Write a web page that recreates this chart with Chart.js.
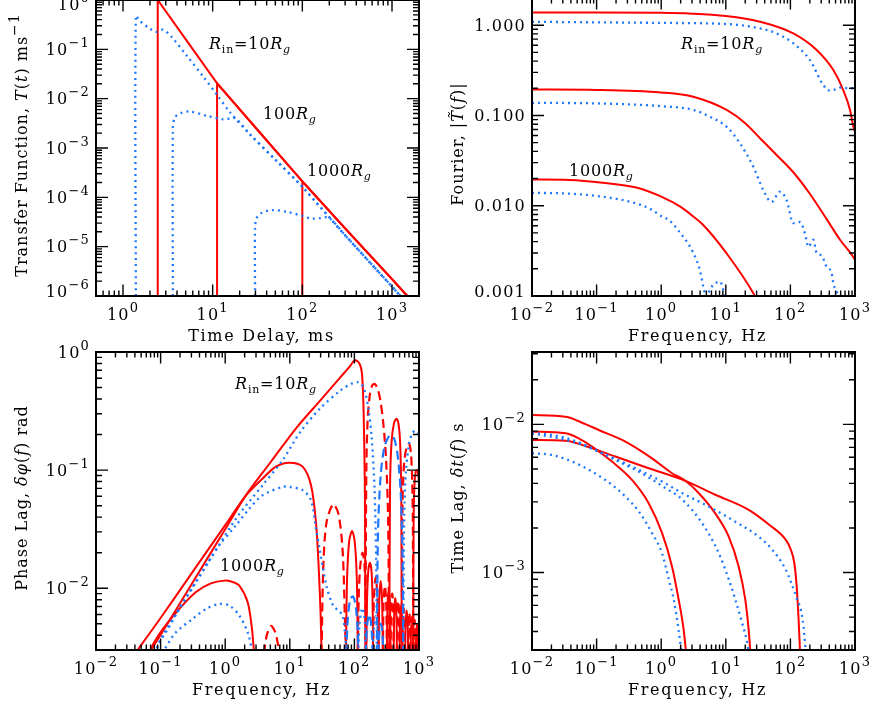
<!DOCTYPE html>
<html>
<head>
<meta charset="utf-8">
<script src="https://cdn.jsdelivr.net/npm/chart.js@4.4.1/dist/chart.umd.min.js"></script>
<style>
  html, body { margin: 0; padding: 0; background: #fff; }
  #wrap { position: relative; width: 872px; height: 708px; overflow: hidden; background: #fff; }
  canvas { position: absolute; }
</style>
</head>
<body>
<div id="wrap">
  <canvas id="transfer" width="436" height="374" style="left:0;top:-20px"></canvas>
  <canvas id="fourier" width="436" height="374" style="left:436px;top:-20px"></canvas>
  <canvas id="phase" width="436" height="374" style="left:0;top:334px"></canvas>
  <canvas id="timelag" width="436" height="374" style="left:436px;top:334px"></canvas>
</div>
<script>
// tick labels: [value, base, exponent]
const delayTicks = [[1, '10', '0'], [10, '10', '1'], [100, '10', '2'], [1000, '10', '3']];
const transferTicks = [[1, '10', '0'], [0.1, '10', '−1'], [0.01, '10', '−2'], [1e-3, '10', '−3'],
  [1e-4, '10', '−4'], [1e-5, '10', '−5'], [1e-6, '10', '−6']];
const freqTicks = [[0.01, '10', '−2'], [0.1, '10', '−1'], [1, '10', '0'], [10, '10', '1'], [100, '10', '2'], [1000, '10', '3']];
const fourierTicks = [[1, '1.000'], [0.1, '0.100'], [0.01, '0.010'], [0.001, '0.001']];
const phaseTicks = [[1, '10', '0'], [0.1, '10', '−1'], [0.01, '10', '−2']];
const lagTicks = [[0.01, '10', '−2'], [0.001, '10', '−3']];

// transfer function T(t), t in ms
const delayRed10 = [[2.44, 1e-6], [2.44, 1.0], [5.2, 0.145], [11.2, 0.0205], [30, 2.6e-3], [100, 2.1e-4], [300, 2.35e-5], [1000, 2.2e-6], [1480, 1e-6]];
const delayRed100 = [[11.2, 1e-6], [11.2, 0.0205], [30, 2.6e-3], [100, 2.1e-4], [300, 2.35e-5], [1000, 2.2e-6], [1480, 1e-6]];
const delayRed1000 = [[100, 1e-6], [100, 2.1e-4], [300, 2.35e-5], [1000, 2.2e-6], [1480, 1e-6]];
const delayBlue10 = [[1.39, 1e-6], [1.39, 0.475], [1.54, 0.377], [1.99, 0.264], [2.36, 0.226], [2.8, 0.25], [3.47, 0.18], [5.1, 0.076],
  [7.85, 0.028], [11.2, 0.0119], [15.6, 5.3e-3], [26, 1.9e-3], [50, 5.8e-4], [100, 1.63e-4], [300, 1.7e-5], [1000, 1.55e-6], [1245, 1e-6]];
const delayBlue100 = [[3.6, 1e-6], [3.6, 2.5e-3], [3.8, 4.2e-3], [4.4, 5.1e-3], [5.6, 5.5e-3], [8.6, 4.5e-3], [13.1, 3.8e-3], [16, 4.0e-3],
  [18, 4.0e-3], [26, 1.9e-3], [50, 5.8e-4], [100, 1.63e-4], [300, 1.7e-5], [1000, 1.55e-6], [1245, 1e-6]];
const delayBlue1000 = [[29.7, 1e-6], [29.7, 2.5e-5], [31, 3.8e-5], [35, 4.8e-5], [45.7, 5.5e-5], [70, 5.0e-5], [100, 4.2e-5], [125, 3.7e-5],
  [160, 3.8e-5], [197, 3.9e-5], [300, 1.7e-5], [1000, 1.55e-6], [1245, 1e-6]];

// Fourier amplitude |T(f)|, f in Hz
const fourRed10 = [[0.01, 1.38], [0.1, 1.38], [1, 1.37], [3, 1.34], [10, 1.26], [34, 1.09], [111, 0.81], [255, 0.53], [462, 0.318],
  [660, 0.19], [838, 0.115], [943, 0.075], [1000, 0.066]];
const fourBlue10 = [[0.01, 1.09], [1, 1.06], [10, 1.03], [34, 0.92], [61, 0.81], [111, 0.63], [201, 0.41], [323, 0.217], [410, 0.188],
  [500, 0.195], [586, 0.204], [800, 0.2], [1000, 0.2]];
const fourRed100 = [[0.01, 0.194], [0.1, 0.192], [1, 0.18], [3.14, 0.161], [10.3, 0.115], [20, 0.082], [33.8, 0.056], [60, 0.037],
  [111, 0.0235], [201, 0.0135], [364, 0.0071], [586, 0.0042], [943, 0.0027], [1000, 0.0025]];
const fourBlue100 = [[0.01, 0.138], [0.1, 0.136], [0.96, 0.127], [3.14, 0.115], [5.7, 0.0966], [10.3, 0.0748], [16.6, 0.049], [26.7, 0.027],
  [38, 0.0149], [51, 0.011], [69, 0.0143], [87.5, 0.0115], [111, 0.0064], [141, 0.0066], [168, 0.0049], [190, 0.0035], [226, 0.0042],
  [255, 0.003], [305, 0.0028], [364, 0.0021], [435, 0.0018], [462, 0.00138], [552, 0.001], [600, 0.0008]];
const fourRed1000 = [[0.01, 0.0195], [0.038, 0.0193], [0.124, 0.018], [0.41, 0.0159], [1, 0.0126], [2, 0.0097], [3.14, 0.0076],
  [4.4, 0.0062], [10.3, 0.00296], [26.7, 0.00107], [30, 0.0009]];
const fourBlue1000 = [[0.01, 0.0139], [0.038, 0.0136], [0.124, 0.0126], [0.41, 0.0106], [0.74, 0.0089], [0.96, 0.0078], [1.33, 0.0069],
  [1.74, 0.0056], [3.14, 0.003], [4.0, 0.0019], [4.5, 0.00126], [5.0, 0.00098], [5.6, 0.00115], [6.4, 0.00133], [8.1, 0.00144],
  [9.7, 0.001], [10.5, 0.0008]];

// phase lag |dphi(f)|, solid = positive, dashed = negative
const phaseRed10Solid = [[0.065, 0.0028], [0.071, 0.003], [0.1, 0.00402], [0.3, 0.01075], [1, 0.0316], [2.1, 0.0614], [5, 0.116],
  [12.5, 0.226], [30, 0.392], [60, 0.607], [85, 0.755], [98, 0.84], [110, 0.84], [122, 0.78], [130, 0.68], [135, 0.5], [139, 0.3],
  [143, 0.13], [146, 0.05], [148, 0.0028], null,
  [347, 0.0028], [356, 0.07], [375, 0.17], [410, 0.25], [452, 0.272], [490, 0.23], [515, 0.15], [532, 0.06], [540, 0.0028], null,
  [813, 0.0028], [825, 0.035], [850, 0.075], [890, 0.098], [935, 0.1], [975, 0.09], [1000, 0.08]];
const phaseRed10Dash = [[148, 0.0028], [153, 0.1], [160, 0.26], [172, 0.42], [188, 0.52], [205, 0.537], [225, 0.5], [250, 0.4],
  [280, 0.25], [310, 0.12], [332, 0.04], [347, 0.0028], null,
  [540, 0.0028], [555, 0.05], [585, 0.11], [640, 0.155], [700, 0.167], [750, 0.14], [785, 0.08], [805, 0.03], [813, 0.0028]];
const phaseRed100Solid = [[0.04, 0.0028], [0.044, 0.003], [0.1, 0.0056], [0.3, 0.0133], [1, 0.0342], [2.1, 0.0612], [3.8, 0.085],
  [6.1, 0.107], [9.8, 0.1155], [15.8, 0.107], [21.3, 0.0746], [25.4, 0.0364], [28, 0.015], [30, 0.006], [31, 0.0028], null,
  [74, 0.0028], [77, 0.012], [83, 0.025], [92, 0.0305], [101, 0.025], [109, 0.012], [113, 0.0028], null,
  [153, 0.0028], [157, 0.008], [164, 0.014], [174, 0.0164], [184, 0.014], [191, 0.008], [195, 0.0028], null,
  [237, 0.0028], [243, 0.008], [255, 0.0115], [268, 0.008], [276, 0.0028], null,
  [318, 0.0028], [325, 0.007], [340, 0.0095], [356, 0.007], [363, 0.0028], null,
  [405, 0.0028], [414, 0.0062], [430, 0.0082], [447, 0.006], [455, 0.0028], null,
  [500, 0.0028], [510, 0.0055], [528, 0.0072], [548, 0.0055], [558, 0.0028], null,
  [610, 0.0028], [622, 0.005], [645, 0.0065], [668, 0.005], [680, 0.0028], null,
  [740, 0.0028], [755, 0.0045], [780, 0.0058], [805, 0.0045], [820, 0.0028], null,
  [890, 0.0028], [905, 0.004], [930, 0.005], [955, 0.004], [970, 0.0028]];
const phaseRed100Dash = [[31, 0.0028], [33, 0.015], [37, 0.036], [47, 0.0514], [57, 0.042], [66, 0.02], [71, 0.006], [74, 0.0028], null,
  [113, 0.0028], [117, 0.009], [124, 0.016], [134, 0.02], [143, 0.016], [149, 0.008], [153, 0.0028], null,
  [195, 0.0028], [200, 0.008], [214, 0.0125], [228, 0.008], [237, 0.0028], null,
  [276, 0.0028], [283, 0.0075], [297, 0.0105], [311, 0.0075], [318, 0.0028], null,
  [363, 0.0028], [371, 0.0068], [386, 0.009], [400, 0.0066], [405, 0.0028], null,
  [455, 0.0028], [464, 0.006], [478, 0.0078], [492, 0.006], [500, 0.0028], null,
  [558, 0.0028], [569, 0.0052], [585, 0.0068], [600, 0.0052], [610, 0.0028], null,
  [680, 0.0028], [693, 0.0048], [710, 0.0062], [728, 0.0048], [740, 0.0028], null,
  [820, 0.0028], [835, 0.0043], [855, 0.0054], [875, 0.0043], [890, 0.0028]];
const phaseRed1000Solid = [[0.066, 0.0028], [0.08, 0.0035], [0.108, 0.0045], [0.195, 0.0067], [0.353, 0.0093], [0.6, 0.011],
  [0.97, 0.0116], [1.3, 0.0113], [1.66, 0.0105], [2.23, 0.0076], [2.6, 0.0045], [2.8, 0.0028]];
const phaseRed1000Dash = [[4.0, 0.0028], [4.4, 0.004], [5.1, 0.0048], [5.9, 0.0043], [6.6, 0.0033], [7.0, 0.0028]];
const phaseBlue10Dot = [[0.082, 0.0028], [0.095, 0.00348], [0.121, 0.00424], [0.195, 0.00668], [0.353, 0.01125], [0.64, 0.019],
  [1.47, 0.0389], [3.8, 0.0746], [7.76, 0.1216], [14.4, 0.209], [29, 0.33], [60, 0.47], [91, 0.54], [110, 0.556], [130, 0.53],
  [146, 0.46], [165, 0.33], [185, 0.19], [205, 0.07], [218, 0.015], [223, 0.0028], null,
  [571, 0.0028], [590, 0.04], [630, 0.1], [700, 0.165], [770, 0.2], [860, 0.215], [950, 0.21], [1000, 0.2]];
const phaseBlue10Dash = [[223, 0.0028], [232, 0.03], [255, 0.09], [290, 0.155], [335, 0.19], [377, 0.197], [420, 0.18], [470, 0.13],
  [520, 0.065], [555, 0.02], [571, 0.0028]];
const phaseBlue100Dot = [[0.078, 0.0028], [0.085, 0.003], [0.108, 0.00397], [0.154, 0.0055], [0.279, 0.00925], [0.505, 0.0156],
  [0.81, 0.0231], [1.47, 0.0341], [2.37, 0.0473], [3.8, 0.0613], [7.76, 0.0722], [10, 0.072], [15.8, 0.0676], [21.3, 0.0556],
  [25.4, 0.032], [29, 0.0213], [37, 0.0104], [47, 0.0071], [58, 0.0064], [66, 0.0058], [72, 0.004], [75, 0.0028], null,
  [115, 0.0028], [120, 0.005], [132, 0.0068], [144, 0.0055], [150, 0.0028], null,
  [192, 0.0028], [200, 0.0045], [214, 0.0058], [228, 0.0045], [234, 0.0028]];
const phaseBlue100Dash = [[75, 0.0028], [79, 0.0055], [87, 0.0082], [96, 0.0085], [105, 0.007], [112, 0.0045], [115, 0.0028], null,
  [150, 0.0028], [157, 0.0048], [170, 0.006], [183, 0.0048], [192, 0.0028], null,
  [234, 0.0028], [244, 0.0042], [258, 0.005], [272, 0.004], [280, 0.0028]];
const phaseBlue1000Dot = [[0.11, 0.0028], [0.114, 0.003], [0.173, 0.00424], [0.313, 0.0055], [0.505, 0.00668], [0.81, 0.00736],
  [1.16, 0.00713], [1.66, 0.00586], [2.23, 0.00424], [2.5, 0.0033], [2.66, 0.0028]];

// time lag dt(f), s
const lagRed10 = [[0.01, 0.00785], [0.033, 0.00776], [0.067, 0.00715], [0.195, 0.00607], [0.64, 0.00506], [2.37, 0.00416], [6.9, 0.00335],
  [22.6, 0.00265], [47, 0.0021], [85, 0.00166], [102, 0.00142], [115, 0.00116], [125, 0.00081], [134, 0.00048], [141, 0.00029]];
const lagRed100 = [[0.01, 0.01155], [0.033, 0.01127], [0.067, 0.01005], [0.108, 0.00916], [0.279, 0.00765], [0.72, 0.0059],
  [1.47, 0.00468], [2.37, 0.00416], [3.8, 0.00344], [6.9, 0.0025], [11.1, 0.00175], [15.8, 0.0011], [20, 0.00066], [22.6, 0.00041], [24, 0.00029]];
const lagRed1000 = [[0.01, 0.00893], [0.033, 0.0087], [0.0527, 0.00805], [0.085, 0.00708], [0.173, 0.00561], [0.353, 0.00422],
  [0.64, 0.00294], [1.03, 0.00185], [1.47, 0.0011], [1.86, 0.00066], [2.23, 0.00041], [2.42, 0.00029]];
const lagBlue10 = [[0.01, 0.0087], [0.042, 0.00765], [0.108, 0.00655], [0.353, 0.00519], [1.16, 0.004], [2.1, 0.00344], [4.8, 0.00287],
  [12.5, 0.00227], [32, 0.00175], [52, 0.00143], [85, 0.00104], [122, 0.00069], [155, 0.00048], [174, 0.00029]];
const lagBlue100 = [[0.01, 0.0087], [0.02, 0.0085], [0.042, 0.00785], [0.085, 0.0069], [0.195, 0.00575], [0.448, 0.0048], [1.16, 0.00372],
  [1.86, 0.00326], [3.0, 0.00265], [4.8, 0.002], [7.8, 0.00135], [11.1, 0.0009], [14, 0.00066], [17.8, 0.00046], [21.3, 0.00034], [22.6, 0.00029]];
const lagBlue1000 = [[0.01, 0.00638], [0.02, 0.00622], [0.042, 0.00561], [0.085, 0.0048], [0.173, 0.00391], [0.279, 0.00326],
  [0.448, 0.00259], [0.72, 0.00185], [1.03, 0.00135], [1.31, 0.0009], [1.56, 0.00066], [1.86, 0.00041], [2.05, 0.00029]];

const RED = '#ff0000';
const BLUE = 'rgb(30,120,255)';
const FONT = '"DejaVu Serif", "Liberation Serif", serif';

function toPoints(arr) {
  let lastX = 1;
  return arr.map(p => {
    if (!p) return { x: lastX, y: null };
    lastX = p[0];
    return { x: p[0], y: p[1] };
  });
}

// smooth: number = bezier tension, 'mono' = monotone spline
function line(data, color, kind, smooth) {
  const ds = {
    data: toPoints(data), borderColor: color, borderWidth: 2, pointRadius: 0,
    tension: 0.3, fill: false, spanGaps: false
  };
  if (smooth === 'mono') ds.cubicInterpolationMode = 'monotone';
  else if (smooth !== undefined) ds.tension = smooth;
  if (kind === 'dot') { ds.borderDash = [2, 4]; ds.borderWidth = 2.3; }
  if (kind === 'dash') { ds.borderDash = [9, 5]; ds.borderWidth = 2.2; }
  return ds;
}

function fontOf(p) {
  return (p.i ? 'italic ' : '') + (p.s || 16) + 'px ' + FONT;
}

function richText(ctx, parts, x, y, align, spacing) {
  ctx.letterSpacing = (spacing || 0) + 'px';
  const widths = parts.map(p => { ctx.font = fontOf(p); return ctx.measureText(p.t).width; });
  const total = widths.reduce((a, b) => a + b, 0);
  let cx = align === 'center' ? x - total / 2 : align === 'right' ? x - total : x;
  parts.forEach((p, k) => {
    ctx.font = fontOf(p);
    ctx.fillText(p.t, cx, y + (p.dy || 0));
    cx += widths[k];
  });
}

function logSteps(min, max) {
  const out = [];
  for (let e = Math.floor(Math.log10(min)); e <= Math.ceil(Math.log10(max)); e++) {
    for (let m = 1; m < 10; m++) {
      const v = m * Math.pow(10, e);
      if (v >= min * 0.999 && v <= max * 1.001) out.push([v, m === 1]);
    }
  }
  return out;
}

function tickParts(t) {
  return t[2] !== undefined ? [{ t: t[1] }, { t: t[2], s: 13, dy: -8 }] : [{ t: t[1] }];
}

function makeFrame(cfg) {
  return {
    id: 'frame',
    afterDraw(chart) {
      const { ctx, chartArea: a } = chart;
      const xs = chart.scales.x, ys = chart.scales.y;
      ctx.save();
      ctx.strokeStyle = '#000';
      ctx.fillStyle = '#000';
      ctx.lineWidth = 1.4;
      ctx.beginPath();
      logSteps(xs.min, xs.max).forEach(([v, major]) => {
        const px = xs.getPixelForValue(v), len = major ? 11.5 : 5.5;
        ctx.moveTo(px, a.bottom); ctx.lineTo(px, a.bottom - len);
        ctx.moveTo(px, a.top); ctx.lineTo(px, a.top + len);
      });
      logSteps(ys.min, ys.max).forEach(([v, major]) => {
        const py = ys.getPixelForValue(v), len = major ? 12 : 6;
        ctx.moveTo(a.left, py); ctx.lineTo(a.left + len, py);
        ctx.moveTo(a.right, py); ctx.lineTo(a.right - len, py);
      });
      ctx.stroke();
      ctx.lineWidth = 2;
      ctx.strokeRect(a.left, a.top, a.right - a.left, a.bottom - a.top);

      ctx.textAlign = 'left';
      ctx.textBaseline = 'alphabetic';
      cfg.xTicks.forEach(t => {
        richText(ctx, tickParts(t), xs.getPixelForValue(t[0]), a.bottom + 24, 'center', 1.2);
      });
      cfg.yTicks.forEach(t => {
        let cy = Math.min(ys.getPixelForValue(t[0]), a.bottom - 5);
        if (cfg.clampTop) cy = Math.max(cy, a.top + 4);
        richText(ctx, tickParts(t), a.left - 6, cy + 5.5, 'right', 1.2);
      });

      richText(ctx, cfg.xTitle, (a.left + a.right) / 2 + 4, a.bottom + 45, 'center', 1.7);
      ctx.save();
      ctx.translate(a.left - 75, (a.top + a.bottom) / 2 - 3);
      ctx.rotate(-Math.PI / 2);
      richText(ctx, cfg.yTitle, 0, 6, 'center', 1);
      ctx.restore();

      (cfg.notes || []).forEach(n => {
        richText(ctx, n.parts, xs.getPixelForValue(n.x), ys.getPixelForValue(n.y), 'left', 0.8);
      });
      ctx.restore();
    }
  };
}

function panel(id, xRange, yRange, datasets, pad, cfg) {
  return new Chart(document.getElementById(id), {
    type: 'line',
    data: { datasets },
    options: {
      responsive: false, maintainAspectRatio: false, animation: false, devicePixelRatio: 1, events: [],
      layout: { padding: pad },
      plugins: { legend: { display: false }, tooltip: { enabled: false } },
      scales: {
        x: { type: 'logarithmic', min: xRange[0], max: xRange[1], display: false },
        y: { type: 'logarithmic', min: yRange[0], max: yRange[1], display: false }
      }
    },
    plugins: [makeFrame(cfg)]
  });
}

document.addEventListener('DOMContentLoaded', () => {
  const rin = [{ t: 'R', i: true }, { t: 'in', s: 11, dy: 4 }, { t: '=10' }, { t: 'R', i: true }, { t: 'g', i: true, s: 11, dy: 4 }];
  const rg = n => [{ t: n }, { t: 'R', i: true }, { t: 'g', i: true, s: 11, dy: 4 }];
  const freqTitle = [{ t: 'Frequency, Hz' }];

  panel('transfer', [0.5, 2000], [1e-6, 1], [
    line(delayBlue10, BLUE, 'dot'), line(delayBlue100, BLUE, 'dot'), line(delayBlue1000, BLUE, 'dot'),
    line(delayRed10, RED, 'solid', 0), line(delayRed100, RED, 'solid', 0), line(delayRed1000, RED, 'solid', 0)
  ], { left: 96, right: 17, top: 20, bottom: 58 }, {
    xTicks: delayTicks, yTicks: transferTicks, clampTop: true,
    xTitle: [{ t: 'Time Delay, ms' }],
    yTitle: [{ t: 'Transfer Function, ' }, { t: 'T', i: true }, { t: '(' }, { t: 't', i: true }, { t: ') ms' }, { t: '−1', s: 14, dy: -8 }],
    notes: [{ x: 9.1, y: 0.1, parts: rin }, { x: 36.5, y: 3.9e-3, parts: rg('100') }, { x: 113, y: 2.75e-4, parts: rg('1000') }]
  });

  panel('fourier', [0.01, 1000], [0.001, 2], [
    line(fourBlue10, BLUE, 'dot', 'mono'), line(fourBlue100, BLUE, 'dot', 'mono'), line(fourBlue1000, BLUE, 'dot', 'mono'),
    line(fourRed10, RED, 'solid', 'mono'), line(fourRed100, RED, 'solid', 'mono'), line(fourRed1000, RED, 'solid', 'mono')
  ], { left: 96, right: 17, top: 18, bottom: 58 }, {
    xTicks: freqTicks, yTicks: fourierTicks,
    xTitle: freqTitle,
    yTitle: [{ t: 'Fourier, |' }, { t: 'T\u0303', i: true }, { t: '(' }, { t: 'f', i: true }, { t: ')|' }],
    notes: [{ x: 2.03, y: 0.55, parts: rin }, { x: 0.0374, y: 0.0213, parts: rg('1000') }]
  });

  panel('phase', [0.01, 1000], [0.003, 1], [
    line(phaseBlue10Dot, BLUE, 'dot'), line(phaseBlue100Dot, BLUE, 'dot'), line(phaseBlue1000Dot, BLUE, 'dot'),
    line(phaseBlue10Dash, BLUE, 'dash'), line(phaseBlue100Dash, BLUE, 'dash'),
    line(phaseRed100Solid, RED, 'solid'), line(phaseRed100Dash, RED, 'dash'),
    line(phaseRed1000Solid, RED, 'solid'), line(phaseRed1000Dash, RED, 'dash'),
    line(phaseRed10Solid, RED, 'solid'), line(phaseRed10Dash, RED, 'dash')
  ], { left: 96, right: 17, top: 18, bottom: 58 }, {
    xTicks: freqTicks, yTicks: phaseTicks,
    xTitle: freqTitle,
    yTitle: [{ t: 'Phase Lag, ' }, { t: 'δφ', i: true }, { t: '(' }, { t: 'f', i: true }, { t: ') rad' }],
    notes: [{ x: 1.42, y: 0.487, parts: rin }, { x: 0.83, y: 0.0139, parts: rg('1000') }]
  });

  panel('timelag', [0.01, 1000], [3.05e-4, 0.0308], [
    line(lagBlue10, BLUE, 'dot', 'mono'), line(lagBlue100, BLUE, 'dot', 'mono'), line(lagBlue1000, BLUE, 'dot', 'mono'),
    line(lagRed10, RED, 'solid', 'mono'), line(lagRed100, RED, 'solid', 'mono'), line(lagRed1000, RED, 'solid', 'mono')
  ], { left: 96, right: 17, top: 18, bottom: 58 }, {
    xTicks: freqTicks, yTicks: lagTicks,
    xTitle: freqTitle,
    yTitle: [{ t: 'Time Lag, ' }, { t: 'δt', i: true }, { t: '(' }, { t: 'f', i: true }, { t: ') s' }]
  });
});
</script>
</body>
</html>
